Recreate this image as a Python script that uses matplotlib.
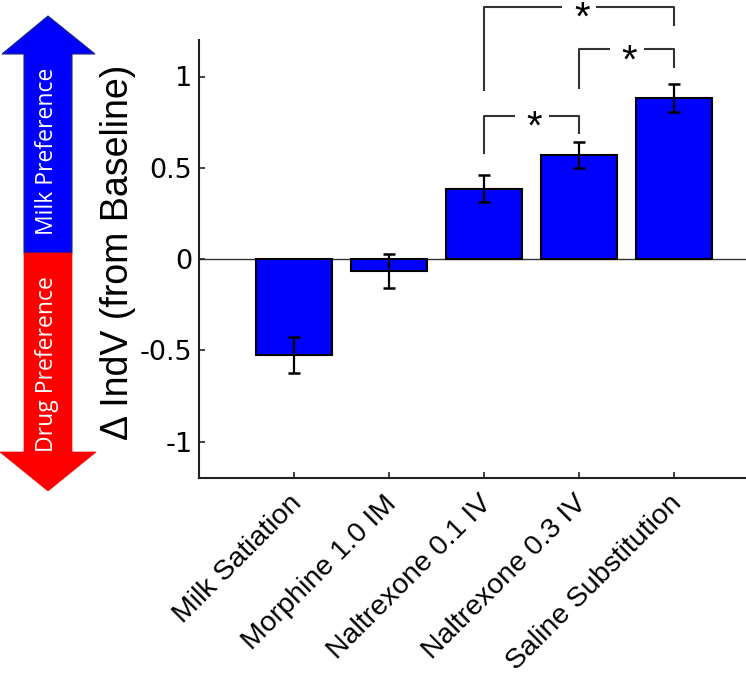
import matplotlib
matplotlib.use("Agg")
import matplotlib.pyplot as plt
from matplotlib.patches import Polygon
from matplotlib.transforms import ScaledTranslation

plt.rcParams['axes.unicode_minus'] = False

# ---- data ----
categories = ["Milk Satiation", "Morphine 1.0 IM", "Naltrexone 0.1 IV",
              "Naltrexone 0.3 IV", "Saline Substitution"]
values = [-0.525, -0.065, 0.385, 0.572, 0.881]
errors = [0.098, 0.092, 0.074, 0.071, 0.077]
ytick_values = [-1, -0.5, 0, 0.5, 1]
ytick_labels = ["-1", "-0.5", "0", "0.5", "1"]
ylabel = "\u0394 IndV (from Baseline)"
# significance brackets: (left bar index, right bar index, bracket level, left end, right end)
brackets = [
    (2, 3, 0.784, 0.577, 0.684),
    (3, 4, 1.149, 0.932, 1.048),
    (2, 4, 1.380, 0.921, 1.276),
]
sig_label = "*"
arrow_labels = ["Milk Preference", "Drug Preference"]

W, H = 746, 687
fig = plt.figure(figsize=(W / 100, H / 100), dpi=100)

ax_l, ax_r, ax_t, ax_b = 199.3, 745.5, 40, 478
ax = fig.add_axes([ax_l / W, 1 - ax_b / H, (ax_r - ax_l) / W, (ax_b - ax_t) / H])

x = list(range(1, len(categories) + 1))
ax.bar(x, values, width=0.8, color="#0000FF", edgecolor="black", linewidth=1.5, zorder=2)
ax.errorbar(x, values, yerr=errors, fmt="none", ecolor="black", elinewidth=1.6,
            capsize=4.5, capthick=1.8, zorder=3)
ax.axhline(0, color="#333333", linewidth=1.0, zorder=1)

ax.set_xlim(0, 5.75)
ax.set_ylim(-1.2, 1.2)
ax.set_yticks(ytick_values)
ax.set_yticklabels(ytick_labels, fontsize=19.5, family="DejaVu Sans")
ax.set_xticks(x)
ax.set_xticklabels(categories, rotation=45, ha="right", va="top",
                   rotation_mode="anchor", fontsize=20.5, family="Liberation Sans")
ax.tick_params(direction="in", length=4, width=1.2, color="#222222", pad=5)
ax.tick_params(axis="x", pad=9)
for s in ["top", "right"]:
    ax.spines[s].set_visible(False)
for s in ["left", "bottom"]:
    ax.spines[s].set_linewidth(1.5)
    ax.spines[s].set_color("#222222")
shift = ScaledTranslation(-4 / 72, 0, fig.dpi_scale_trans)
for lbl in ax.get_xticklabels():
    lbl.set_transform(lbl.get_transform() + shift)

# significance brackets
gap = 0.18
for i, j, lvl, l_end, r_end in brackets:
    xi, xj = x[i], x[j]
    xm = (xi + xj) / 2
    ax.plot([xi, xi, xm - gap], [l_end, lvl, lvl], color="#333333", lw=1.5,
            clip_on=False, solid_capstyle="butt")
    ax.plot([xm + gap, xj, xj], [lvl, lvl, r_end], color="#333333", lw=1.5,
            clip_on=False, solid_capstyle="butt")
    ax.text(xm + 0.03, lvl - 0.065, sig_label, ha="center", va="center", fontsize=29,
            family="Liberation Sans", clip_on=False)

# y label
fig.text(118 / W, 1 - 252.5 / H, ylabel, rotation=90, ha="center", va="center",
         fontsize=27, family="Liberation Sans")

# left double arrow (figure pixel coordinates)
ov = fig.add_axes([0, 0, 1, 1], zorder=-1)
ov.set_xlim(0, W)
ov.set_ylim(H, 0)
ov.axis("off")
mid = 253
top_poly = [(24, mid), (24, 54), (2, 54), (48, 16), (95, 54), (72, 54), (72, mid)]
bot_poly = [(24, mid), (24, 452), (0, 452), (48, 491), (96, 452), (72, 452), (72, mid)]
ov.add_patch(Polygon(top_poly, closed=True, facecolor="#0000FF", edgecolor="#1a2a80", lw=0.8))
ov.add_patch(Polygon(bot_poly, closed=True, facecolor="#FF0000", edgecolor="#FF0000", lw=0.5))
ov.text(47, 151, arrow_labels[0], rotation=90, ha="center", va="center", color="white",
        fontsize=16.5, family="Open Sans")
ov.text(47, 364, arrow_labels[1], rotation=90, ha="center", va="center", color="white",
        fontsize=16.5, family="Open Sans")

fig.savefig("out.png", dpi=100)
